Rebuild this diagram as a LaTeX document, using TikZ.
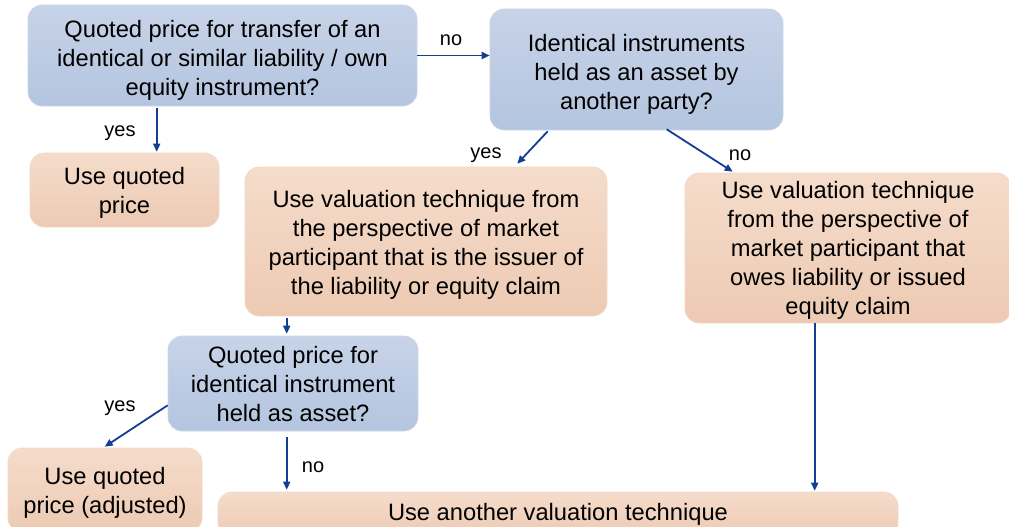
\documentclass[tikz,border=0pt]{standalone}
\usepackage{fontspec}
\setmainfont{Liberation Sans}
\usetikzlibrary{calc,arrows.meta}
\definecolor{bluetop}{HTML}{C7D3E8}
\definecolor{bluebot}{HTML}{B4C5DF}
\definecolor{peachtop}{HTML}{F5DCCB}
\definecolor{peachbot}{HTML}{EDCAB3}
\definecolor{arrowblue}{HTML}{123F94}
\newcommand\dn[1]{\rule{0pt}{#1pt}}
\tikzset{
  box/.style={rounded corners=14pt, align=center, inner sep=0pt,
    font=\fontsize{23.7}{29}\selectfont, text=black},
  qbox/.style={box, top color=bluetop, bottom color=bluebot, draw=bluebot!70!white, line width=0.6pt},
  abox/.style={box, top color=peachtop, bottom color=peachbot, draw=peachbot!70!white, line width=0.6pt},
  arr/.style={draw=arrowblue, line width=1.8pt, -{Triangle[length=8pt,width=7pt]}},
  lbl/.style={font=\fontsize{20}{24}\selectfont, text=black, inner sep=0pt},
}
\begin{document}
\begin{tikzpicture}[x=1pt,y=-1pt]
\useasboundingbox (0,0) rectangle (1009,527);
\clip (0,0) rectangle (1009,527);
\fill[white] (0,0) rectangle (1009,527);

\node[qbox, minimum width=389pt, minimum height=101pt] (A) at (222.5,55.5)
  {\dn{26}Quoted price for transfer of an\\identical or similar liability / own\\equity instrument?};
\node[qbox, minimum width=293pt, minimum height=121pt] (B) at (636.5,69.5)
  {\dn{27}Identical instruments\\held as an asset by\\another party?};
\node[abox, minimum width=189pt, minimum height=74pt] (C) at (124.5,190)
  {\dn{23}Use quoted\\price};
\node[abox, minimum width=362pt, minimum height=149pt] (D) at (426,241.5)
  {\dn{23}Use valuation technique from\\the perspective of market\\participant that is the issuer of\\the liability or equity claim};
\node[abox, minimum width=326pt, minimum height=150pt] (E) at (848,248)
  {\dn{22.5}Use valuation technique\\from the perspective of\\market participant that\\owes liability or issued\\equity claim};
\node[qbox, minimum width=250pt, minimum height=95pt] (F) at (293,383.5)
  {\dn{19}Quoted price for\\identical instrument\\held as asset?};
\node[abox, minimum width=194pt, minimum height=84pt] (G) at (105,490)
  {\dn{23}Use quoted\\price (adjusted)};
\node[abox, minimum width=680pt, minimum height=46pt] (H) at (558,515)
  {};
\node[font=\fontsize{23.7}{29}\selectfont] (Ht) at (558,514) {Use another valuation technique};

\draw[arr] (A.east) -- (A.east -| B.west);
\node[lbl] (lno1) at (451,40) {no};

\draw[arr] ($(A.south west)+(129,2)$) -- ($(C.north west)+(127,-1)$);
\node[lbl] (lyes1) at (120,133) {yes};

\draw[arr] ($(B.south west)+(58,1)$) -- ($(D.north east)+(-90,-3)$);
\node[lbl] (lyes2) at (486,155) {yes};

\draw[arr] ($(B.south west)+(177,-1)$) -- ($(E.north west)+(48,-1)$);
\node[lbl] (lno2) at (740,155) {no};

\draw[arr] ($(D.south west)+(42,2)$) -- ($(F.north west)+(119,-2)$);

\draw[arr] ($(F.south west)+(0,-26)$) -- ($(G.north west)+(97,-1)$);
\node[lbl] (lyes3) at (120,408) {yes};

\draw[arr] ($(F.south west)+(119,6)$) -- ($(H.north west)+(69,-2)$);
\node[lbl] (lno3) at (313,467) {no};

\draw[arr] ($(E.south west)+(130,0)$) -- ($(H.north west)+(597,-1)$);
\end{tikzpicture}
\end{document}
